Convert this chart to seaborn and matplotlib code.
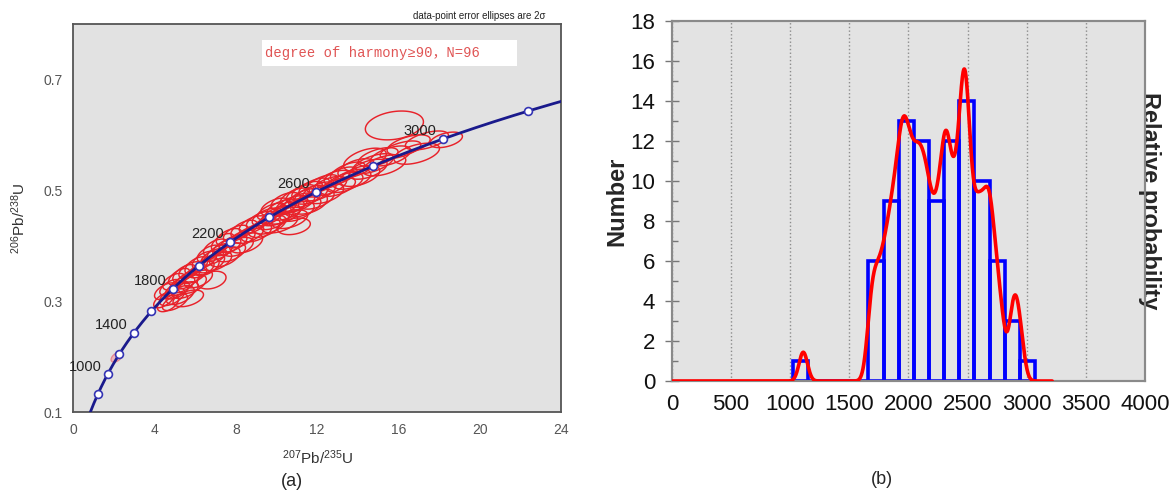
import numpy as np
import matplotlib
matplotlib.use("Agg")
import matplotlib.pyplot as plt
from matplotlib.patches import Polygon, Rectangle
from matplotlib.ticker import MultipleLocator, FixedLocator
import seaborn as sns

# ---- concordia diagram (a) ----
LAMBDA_238 = 1.55125e-4   # per Ma
LAMBDA_235 = 9.8485e-4    # per Ma
marker_ages = [800, 1000, 1200, 1400, 1600, 1800, 2000, 2200, 2400, 2600, 2800, 3000, 3200]
label_ages = [1000, 1400, 1800, 2200, 2600, 3000]

# error ellipse centres (207Pb/235U, 206Pb/238U), 2-sigma half widths and correlation
ell_x = [4.45, 4.55, 4.65, 4.75, 4.85, 4.95, 5.00, 5.10, 5.20, 5.25, 5.35, 5.45, 5.50, 5.60, 5.65,
         5.75, 5.85, 5.95, 6.05, 6.15, 6.30, 6.45,
         6.55, 6.65, 6.75, 6.80, 6.90, 7.00, 7.10, 7.20, 7.35, 7.45, 7.55, 7.65, 7.75, 7.85, 8.00,
         8.10, 8.25, 8.40, 8.50, 8.65, 8.85, 9.00, 9.20, 9.40,
         9.55, 9.65, 9.75, 9.85, 9.95, 10.05, 10.15, 10.25, 10.35, 10.45, 10.55, 10.65, 10.75, 10.85,
         10.90, 11.00, 11.10, 11.20, 11.30, 11.40, 11.50, 11.60, 11.70, 11.85, 11.95, 12.10, 12.25,
         12.40, 12.60, 12.80,
         13.00, 13.15, 13.35, 13.50, 13.70, 13.90, 14.10, 14.35, 14.50, 14.75, 15.00, 15.30,
         15.80, 15.60, 16.10, 16.50, 16.90, 17.40, 18.35]
ell_y = [0.302, 0.318, 0.296, 0.325, 0.308, 0.335, 0.298, 0.320, 0.344, 0.311, 0.330, 0.350, 0.320,
         0.338, 0.305, 0.356, 0.331, 0.347, 0.364, 0.340, 0.357, 0.374,
         0.362, 0.386, 0.368, 0.338, 0.380, 0.396, 0.372, 0.389, 0.406, 0.380, 0.398, 0.416, 0.388,
         0.404, 0.422, 0.398, 0.412, 0.430, 0.405, 0.420, 0.438, 0.424, 0.446, 0.432,
         0.452, 0.438, 0.462, 0.446, 0.470, 0.454, 0.440, 0.468, 0.456, 0.480, 0.464, 0.448, 0.474,
         0.435, 0.488, 0.462, 0.478, 0.494, 0.470, 0.486, 0.500, 0.476, 0.492, 0.506, 0.484, 0.498,
         0.512, 0.494, 0.508, 0.520,
         0.506, 0.526, 0.514, 0.534, 0.520, 0.540, 0.526, 0.555, 0.538, 0.548, 0.560, 0.545,
         0.617, 0.562, 0.573, 0.582, 0.566, 0.590, 0.591]
ell_sx = [0.50, 0.56, 0.52, 0.50, 0.62, 0.56, 0.62, 0.60, 0.52, 0.69, 0.62, 0.56, 0.65, 0.60, 0.75,
          0.56, 0.69, 0.62, 0.56, 0.69, 0.62, 0.60,
          0.62, 0.56, 0.69, 0.71, 0.62, 0.60, 0.69, 0.62, 0.56, 0.75, 0.69, 0.62, 0.72, 0.69, 0.62,
          0.75, 0.69, 0.65, 0.81, 0.72, 0.69, 0.75, 0.69, 0.78,
          0.75, 0.81, 0.69, 0.78, 0.72, 0.81, 0.88, 0.75, 0.82, 0.72, 0.81, 0.88, 0.78, 0.81,
          0.72, 0.85, 0.78, 0.72, 0.88, 0.80, 0.75, 0.90, 0.81, 0.75, 0.88, 0.82, 0.78,
          0.90, 0.85, 0.81,
          0.88, 0.81, 0.90, 0.85, 0.94, 0.88, 0.98, 1.05, 0.94, 1.00, 0.98, 1.06,
          1.43, 1.00, 1.00, 1.06, 1.12, 1.06, 0.80]
ell_sy = [0.014, 0.015, 0.015, 0.014, 0.016, 0.015, 0.015, 0.016, 0.015, 0.017, 0.015, 0.016, 0.015,
          0.016, 0.015, 0.015, 0.017, 0.015, 0.016, 0.016, 0.015, 0.016,
          0.016, 0.015, 0.017, 0.016, 0.015, 0.016, 0.017, 0.015, 0.016, 0.018, 0.016, 0.015, 0.017,
          0.016, 0.015, 0.017, 0.016, 0.016, 0.018, 0.016, 0.016, 0.017, 0.016, 0.017,
          0.016, 0.017, 0.015, 0.017, 0.016, 0.018, 0.017, 0.016, 0.017, 0.016, 0.018, 0.017, 0.016,
          0.015, 0.016, 0.018, 0.017, 0.016, 0.018, 0.017, 0.016, 0.019, 0.017, 0.016, 0.018, 0.017,
          0.016, 0.018, 0.017, 0.016,
          0.017, 0.016, 0.018, 0.017, 0.018, 0.017, 0.019, 0.021, 0.018, 0.018, 0.017, 0.019,
          0.026, 0.018, 0.016, 0.018, 0.019, 0.017, 0.014]
ell_rho = [0.6, 0.55, 0.5, 0.6, 0.55, 0.5, 0.6, 0.55, 0.6, 0.5, 0.55, 0.6, 0.5, 0.6, 0.45,
           0.55, 0.5, 0.6, 0.55, 0.5, 0.6, 0.55,
           0.5, 0.6, 0.55, 0.3, 0.6, 0.5, 0.55, 0.6, 0.55, 0.5, 0.6, 0.55, 0.5, 0.6, 0.55,
           0.5, 0.6, 0.55, 0.45, 0.6, 0.55, 0.5, 0.6, 0.5,
           0.55, 0.5, 0.6, 0.55, 0.5, 0.55, 0.5, 0.6, 0.55, 0.5, 0.6, 0.45, 0.55, 0.3,
           0.6, 0.5, 0.55, 0.6, 0.5, 0.55, 0.6, 0.45, 0.55, 0.6, 0.5, 0.55, 0.6,
           0.5, 0.55, 0.6,
           0.55, 0.6, 0.5, 0.6, 0.5, 0.55, 0.5, 0.5, 0.55, 0.6, 0.55, 0.5,
           0.25, 0.55, 0.6, 0.55, 0.5, 0.55, 0.45]
# the single young grain, drawn faint
young_x, young_y, young_sx, young_sy, young_rho = 2.13, 0.199, 0.28, 0.009, 0.5

# ---- age histogram (b) ----
ages = [1110,
        1670, 1692, 1714, 1736, 1757, 1779,
        1797, 1815, 1831, 1846, 1860, 1873, 1886, 1898, 1910,
        1922, 1931, 1940, 1949, 1958, 1967, 1976, 1986, 1996, 2006, 2016, 2027, 2038,
        2050, 2060, 2071, 2082, 2092, 2103, 2113, 2124, 2135, 2147, 2159, 2170,
        2182, 2198, 2213, 2228, 2242, 2255, 2268, 2281, 2294,
        2303, 2310, 2318, 2326, 2336, 2348, 2360, 2372, 2385, 2398, 2410, 2422,
        2434, 2443, 2451, 2459, 2466, 2473, 2479, 2485, 2491, 2498, 2507, 2518, 2532, 2549,
        2565, 2577, 2590, 2603, 2617, 2631, 2645, 2659, 2672, 2684,
        2692, 2707, 2724, 2743, 2766, 2796,
        2870, 2893, 2915,
        2950]

sns.set_style("white")
plt.rcParams['font.family'] = ['Liberation Sans', 'DejaVu Sans']
plt.rcParams['mathtext.fontset'] = 'custom'
plt.rcParams['mathtext.rm'] = 'Liberation Sans'
plt.rcParams['mathtext.it'] = 'Liberation Sans:italic'
plt.rcParams['mathtext.bf'] = 'Liberation Sans:bold'

fig = plt.figure(figsize=(11.74, 4.92), dpi=100)

# ======== panel (a) ========
ax1 = fig.add_axes([0.0626, 0.1626, 0.4152, 0.7886])
ax1.set_facecolor('#e2e2e2')

t = np.linspace(0, 3700, 600)
conc_x = np.exp(LAMBDA_235 * t) - 1
conc_y = np.exp(LAMBDA_238 * t) - 1
sns.lineplot(x=conc_x, y=conc_y, sort=False, ax=ax1, color='#1a1a8c', lw=2, zorder=3)

theta = np.linspace(0, 2 * np.pi, 80)
for cx, cy, sx, sy, r in zip(ell_x, ell_y, ell_sx, ell_sy, ell_rho):
    px = cx + sx * np.cos(theta)
    py = cy + sy * (r * np.cos(theta) + np.sqrt(1 - r ** 2) * np.sin(theta))
    ax1.add_patch(Polygon(np.column_stack([px, py]), closed=True, fill=False,
                          edgecolor='#e8222a', lw=1.05, zorder=2))
px = young_x + young_sx * np.cos(theta)
py = young_y + young_sy * (young_rho * np.cos(theta) + np.sqrt(1 - young_rho ** 2) * np.sin(theta))
ax1.add_patch(Polygon(np.column_stack([px, py]), closed=True, facecolor=(0.95, 0.6, 0.65, 0.6),
                      edgecolor=(0.9, 0.45, 0.5, 0.8), lw=0.9, zorder=2))

mk_x = np.exp(LAMBDA_235 * np.array(marker_ages)) - 1
mk_y = np.exp(LAMBDA_238 * np.array(marker_ages)) - 1
sns.scatterplot(x=mk_x, y=mk_y, ax=ax1, s=32, color='white', edgecolor='#3434b4',
                linewidth=1.2, zorder=4, clip_on=True)

for age in label_ages:
    lx = np.exp(LAMBDA_235 * age) - 1
    ly = np.exp(LAMBDA_238 * age) - 1
    ax1.annotate(str(age), (lx, ly), xytext=(-4.5, 5.5), textcoords='offset points',
                 ha='right', va='center', fontsize=10.5, color='#222222', zorder=5)

ax1.set_xlim(0, 24)
ax1.set_ylim(0.1, 0.8)
ax1.set_xticks(range(0, 25, 4))
ax1.xaxis.set_minor_locator(FixedLocator(range(2, 24, 4)))
ax1.set_yticks([0.1, 0.3, 0.5, 0.7])
ax1.set_yticklabels(['0.1', '0.3', '0.5', '0.7'])
ax1.yaxis.set_minor_locator(FixedLocator([0.2, 0.4, 0.6]))
ax1.tick_params(which='both', direction='in', length=4, width=1, color='#555555',
                labelsize=10, labelcolor='#555555')
ax1.tick_params(axis='x', pad=8)
ax1.tick_params(axis='y', pad=8)
for s in ax1.spines.values():
    s.set_color('#555555')
    s.set_linewidth(1.3)
ax1.set_xlabel(r'$^{207}$Pb/$^{235}$U', fontsize=11, color='#333333')
ax1.set_ylabel(r'$^{206}$Pb/$^{238}$U', fontsize=11, color='#333333')
ax1.xaxis.set_label_coords(0.5, -0.093)
ax1.yaxis.set_label_coords(-0.093, 0.5)

ax1.text(0.969, 1.021, 'data-point error ellipses are 2σ', transform=ax1.transAxes,
         ha='right', va='center', fontsize=7, color='#222222')
ax1.add_patch(Rectangle((9.28, 0.725), 12.56, 0.0465, facecolor='white', edgecolor='none', zorder=5))
ax1.text(9.43, 0.748, 'degree of harmony≥90，N=96', ha='left', va='center', fontsize=10,
         color='#e05555', family=['Liberation Mono', 'Noto Sans CJK SC'], zorder=6)

# ======== panel (b) ========
ax2 = fig.add_axes([0.5724, 0.2256, 0.4029, 0.7317])
ax2.set_facecolor('#e3e3e3')
ax2.set_axisbelow(True)
sns.histplot(x=ages, binwidth=128, binrange=(1021, 3069), element='bars', fill=False,
             color='#0000ff', edgecolor='#0000ff', linewidth=2.6, ax=ax2, zorder=2)
ax2.set_xlim(0, 4000)
ax2.set_ylim(0, 18)
ax2.set_xticks(range(0, 4001, 500))
ax2.xaxis.set_minor_locator(MultipleLocator(100))
ax2.set_yticks(range(0, 19, 2))
ax2.yaxis.set_minor_locator(MultipleLocator(1))
ax2.grid(axis='x', which='major', linestyle=':', color='#8c8c8c', lw=1)
ax2.tick_params(which='major', direction='inout', length=10, width=1, color='#777777',
                labelsize=16, labelcolor='#111111')
ax2.tick_params(which='minor', direction='in', length=4, width=1, color='#777777')
ax2.tick_params(axis='x', pad=4)
ax2.tick_params(axis='y', pad=7)
ax2.set_xlabel('')
ax2.set_ylabel('Number', fontsize=17, fontweight='bold')
ax2.yaxis.set_label_coords(-0.093, 0.5)
for s in ax2.spines.values():
    s.set_color('#8a8a8a')
    s.set_linewidth(1.5)

ax3 = ax2.twinx()
sns.kdeplot(x=ages, bw_adjust=0.26, cut=60, clip=(0, 3215), gridsize=1500,
            color='#ff0000', lw=2.6, ax=ax3, zorder=3)
kde_peak = ax3.lines[0].get_ydata().max()
ax3.set_ylim(0, kde_peak * 18 / 15.6)
ax3.set_yticks([])
ax3.set_ylabel('Relative probability', fontsize=17, fontweight='bold', rotation=270)
ax3.yaxis.set_label_coords(1.034, 0.5)
for s in ax3.spines.values():
    s.set_color('#8a8a8a')
    s.set_linewidth(1.5)

fig.text(0.2487, 0.021, '(a)', ha='center', va='center', fontsize=13)
fig.text(0.7511, 0.0244, '(b)', ha='center', va='center', fontsize=13)

fig.savefig('out.png', dpi=100)
